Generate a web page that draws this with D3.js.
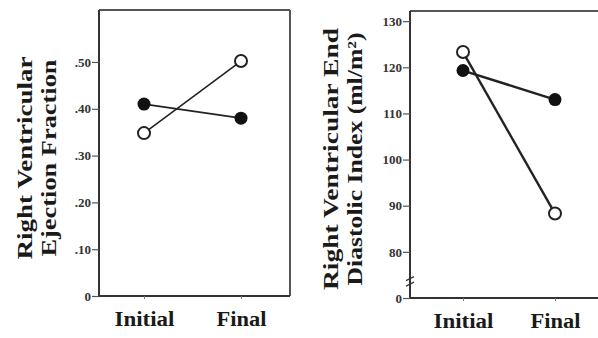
<!DOCTYPE html>
<html>
<head>
<meta charset="utf-8">
<script src="https://cdn.jsdelivr.net/npm/d3@7"></script>
<style>
  body { margin: 0; background: #fff; }
  svg text { font-family: "Liberation Serif", "DejaVu Serif", serif; font-weight: bold; fill: #1a1a1a; }
</style>
</head>
<body>
<div id="chart"></div>
<script>
// data
let categories = ["Initial", "Final"];

let efFilled = [0.41, 0.38];
let efOpen = [0.348, 0.502];
let efTicks = [0, 0.1, 0.2, 0.3, 0.4, 0.5];
let efTickLabels = ["0", ".10", ".20", ".30", ".40", ".50"];

let edviFilled = [119.3, 113];
let edviOpen = [123.3, 88.3];
let edviTicks = [70, 80, 90, 100, 110, 120, 130];
let edviTickLabels = ["0", "80", "90", "100", "110", "120", "130"];

let width = 598;
let height = 338;

let svg = d3.select("#chart")
    .append("svg")
    .attr("width", width)
    .attr("height", height);

function drawPanel(opt) {
    let x = d3.scalePoint()
        .domain(categories)
        .range([opt.left + opt.inset[0], opt.left + opt.inset[1]]);

    let y = d3.scaleLinear()
        .domain(opt.domain)
        .range([opt.bottom, opt.top]);

    let g = svg.append("g");

    // frame
    g.append("line")
        .attr("x1", opt.left).attr("x2", opt.right)
        .attr("y1", opt.top).attr("y2", opt.top)
        .attr("stroke", "#555").attr("stroke-width", 2);
    g.append("line")
        .attr("x1", opt.right).attr("x2", opt.right)
        .attr("y1", opt.top).attr("y2", opt.bottom)
        .attr("stroke", "#555").attr("stroke-width", 2);

    // y axis
    let yAxis = g.append("g")
        .attr("transform", "translate(" + opt.left + ",0)")
        .call(d3.axisLeft(y)
            .tickValues(opt.ticks)
            .tickFormat(function(d, i) { return opt.tickLabels[i]; })
            .tickSize(7)
            .tickSizeOuter(0)
            .tickPadding(1));
    yAxis.select(".domain").attr("stroke", "#333").attr("stroke-width", 2)
        .attr("d", "M0," + opt.top + "V" + opt.bottom);
    yAxis.selectAll(".tick line").attr("stroke", "#555").attr("stroke-width", 1.2);
    yAxis.selectAll(".tick text")
        .style("font-size", "13px")
        .style("fill", "#333");

    // x axis
    let xAxis = g.append("g")
        .attr("transform", "translate(0," + opt.bottom + ")")
        .call(d3.axisBottom(x).tickSize(3).tickSizeOuter(0).tickPadding(12));
    xAxis.select(".domain").attr("stroke", "#333").attr("stroke-width", 2)
        .attr("d", "M" + opt.left + ",0H" + opt.right);
    xAxis.selectAll(".tick line").attr("stroke", "#777");
    xAxis.selectAll(".tick text")
        .style("font-size", "20px")
        .attr("dy", "0.75em")
        .attr("textLength", function(d) { return d === "Initial" ? 60 : 50; })
        .attr("lengthAdjust", "spacingAndGlyphs");

    // axis title, two rotated lines
    let title = g.append("text")
        .attr("transform", "translate(" + opt.titleX + "," + opt.titleY + ") rotate(-90)")
        .attr("text-anchor", "middle")
        .style("font-size", "21px");
    opt.title.forEach(function(line, i) {
        title.append("tspan")
            .attr("x", 0)
            .attr("y", i * opt.lineGap)
            .attr("textLength", opt.titleLen[i])
            .attr("lengthAdjust", "spacingAndGlyphs")
            .text(line);
    });

    // series lines
    let line = d3.line()
        .x(function(d, i) { return x(categories[i]); })
        .y(function(d) { return y(d); });

    [opt.filled, opt.open].forEach(function(vals) {
        g.append("path")
            .datum(vals)
            .attr("d", line)
            .attr("fill", "none")
            .attr("stroke", "#222")
            .attr("stroke-width", opt.lineWidth);
    });

    g.selectAll(".dot-open")
        .data(opt.open)
        .enter().append("circle")
        .attr("cx", function(d, i) { return x(categories[i]); })
        .attr("cy", function(d) { return y(d); })
        .attr("r", 6)
        .attr("fill", "#fff")
        .attr("stroke", "#222")
        .attr("stroke-width", 2);

    g.selectAll(".dot-filled")
        .data(opt.filled)
        .enter().append("circle")
        .attr("cx", function(d, i) { return x(categories[i]); })
        .attr("cy", function(d) { return y(d); })
        .attr("r", 6.5)
        .attr("fill", "#111");

    return y;
}

drawPanel({
    left: 99, right: 290, top: 10, bottom: 296,
    inset: [45, 142],
    domain: [0, 0.611],
    ticks: efTicks, tickLabels: efTickLabels,
    filled: efFilled, open: efOpen,
    lineWidth: 1.6,
    title: ["Right Ventricular", "Ejection Fraction"],
    titleLen: [203, 197],
    titleX: 32, titleY: 158, lineGap: 24
});

let yR = drawPanel({
    left: 410, right: 600, top: 11, bottom: 298,
    inset: [53, 145],
    domain: [70, 132.2],
    ticks: edviTicks, tickLabels: edviTickLabels,
    filled: edviFilled, open: edviOpen,
    lineWidth: 2.4,
    title: ["Right Ventricular End", "Diastolic Index (ml/m\u00B2)"],
    titleX: 338, titleY: 159, lineGap: 24,
    titleLen: [262, 253]
});

// axis break mark on the right panel
[73, 74.2].forEach(function(v) {
    svg.append("line")
        .attr("x1", 406).attr("x2", 414)
        .attr("y1", yR(v) + 2).attr("y2", yR(v) - 2)
        .attr("stroke", "#333")
        .attr("stroke-width", 1.2);
});
</script>
</body>
</html>
